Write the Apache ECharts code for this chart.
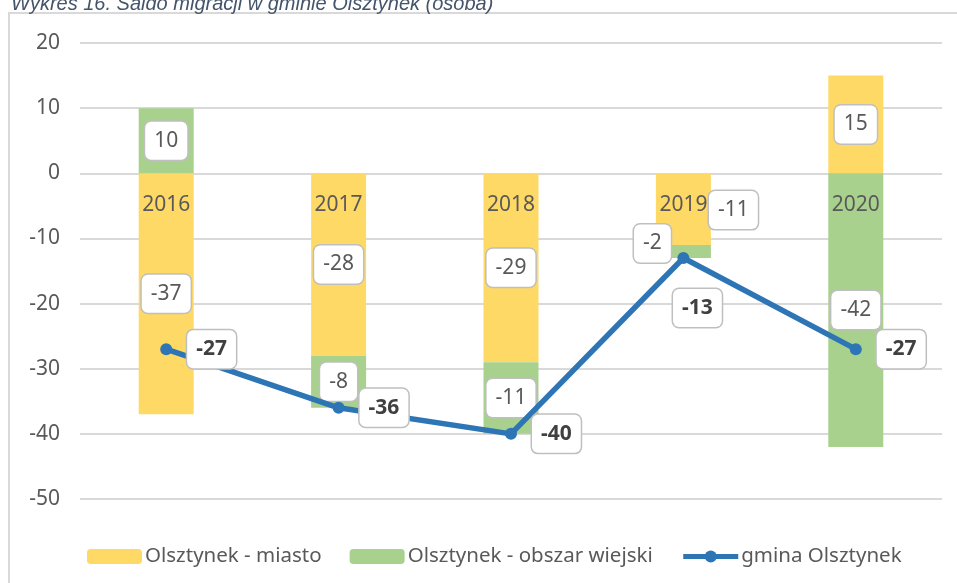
<!DOCTYPE html>
<html>
<head>
<meta charset="utf-8">
<script src="https://cdn.jsdelivr.net/npm/echarts@6/dist/echarts.min.js"></script>
<style>
  html, body { margin: 0; padding: 0; background: #fff; }
  #chart { width: 957px; height: 583px; }
</style>
</head>
<body>
<div id="chart"></div>
<script>
/* Saldo migracji w gminie Olsztynek — słupki skumulowane + linia sumy */

const years = ['2016', '2017', '2018', '2019', '2020'];
const miasto = [-37, -28, -29, -11, 15];        // Olsztynek - miasto
const wies = [10, -8, -11, -2, -42];            // Olsztynek - obszar wiejski
const gmina = [-27, -36, -40, -13, -27];        // gmina Olsztynek
const yTicks = { min: -50, max: 20, step: 10 };

const FONT = '"Noto Sans", sans-serif';
const GREY = '#595959';
const GRID = { left: 80, right: 15, top: 43, bottom: 84 };

// ramka etykiety danych (jak w Excelu)
const box = {
  backgroundColor: '#fff', borderColor: '#bfbfbf', borderWidth: 1.5,
  borderRadius: 6, padding: [9, 9, 8, 9],
  fontFamily: FONT, fontSize: 21, color: GREY,
};

// oś kategorii przesunięta na poziom zera (jak w Excelu)
const plotH = 583 - GRID.top - GRID.bottom;
const zeroShift = -plotH * (0 - yTicks.min) / (yTicks.max - yTicks.min);

const chart = echarts.init(document.getElementById('chart'), null, { renderer: 'canvas' });

chart.setOption({
  animation: false,
  textStyle: { fontFamily: FONT },
  graphic: [
    { type: 'rect', shape: { x: 9, y: 13, width: 960, height: 600 },
      style: { fill: 'none', stroke: '#d9d9d9', lineWidth: 2 }, z: -1 },
    { type: 'text', left: 11, top: -6,
      style: { text: 'Wykres 16. Saldo migracji w gminie Olsztynek (osoba)',
               font: 'italic 20px "Liberation Sans", Arial, sans-serif', fill: '#44546a' } },
  ],
  grid: GRID,
  legend: {
    left: 82, top: 541, itemWidth: 55, itemHeight: 15, itemGap: 28,
    textStyle: { fontFamily: FONT, fontSize: 20.5, color: GREY, padding: [0, 0, 0, -2] },
    data: ['Olsztynek - miasto', 'Olsztynek - obszar wiejski',
           { name: 'gmina Olsztynek', lineStyle: { width: 5 } }],
  },
  xAxis: {
    type: 'category', data: years, z: 10, offset: zeroShift,
    axisLine: { show: false, onZero: false },
    axisTick: { show: false },
    axisLabel: { margin: 21, fontSize: 21, color: GREY, fontFamily: FONT },
  },
  yAxis: {
    type: 'value', min: yTicks.min, max: yTicks.max, interval: yTicks.step,
    axisLabel: { margin: 20, fontSize: 21, color: GREY, fontFamily: FONT },
    splitLine: { lineStyle: { color: '#d9d9d9', width: 2 } },
  },
  series: [
    {
      name: 'Olsztynek - miasto', type: 'bar', stack: 'a', barWidth: 55,
      itemStyle: { color: '#ffd966' },
      label: Object.assign({ show: true, position: 'inside' }, box),
      data: miasto.map((v, i) => i === 3
        ? { value: v, label: { offset: [50, 1] } }      // 2019: etykieta przesunięta w prawo
        : v),
    },
    {
      name: 'Olsztynek - obszar wiejski', type: 'bar', stack: 'a', barWidth: 55,
      itemStyle: { color: '#a9d18e' },
      label: Object.assign({ show: true, position: 'inside' }, box),
      data: wies.map((v, i) => i === 3
        ? { value: v, label: { offset: [-31, -8] } }
        : v),
    },
    {
      name: 'gmina Olsztynek', type: 'line', z: 5,
      symbol: 'circle', symbolSize: 12,
      lineStyle: { color: '#2e75b6', width: 5.5 },
      itemStyle: { color: '#2e75b6' },
      label: Object.assign({}, box, { show: true, position: 'right', distance: 15,
                                       fontWeight: 'bold', color: '#404040' }),
      data: gmina.map((v, i) => i === 3
        ? { value: v, label: { position: 'bottom', distance: 25, offset: [14, 0] } }
        : v),
    },
  ],
});
</script>
</body>
</html>
